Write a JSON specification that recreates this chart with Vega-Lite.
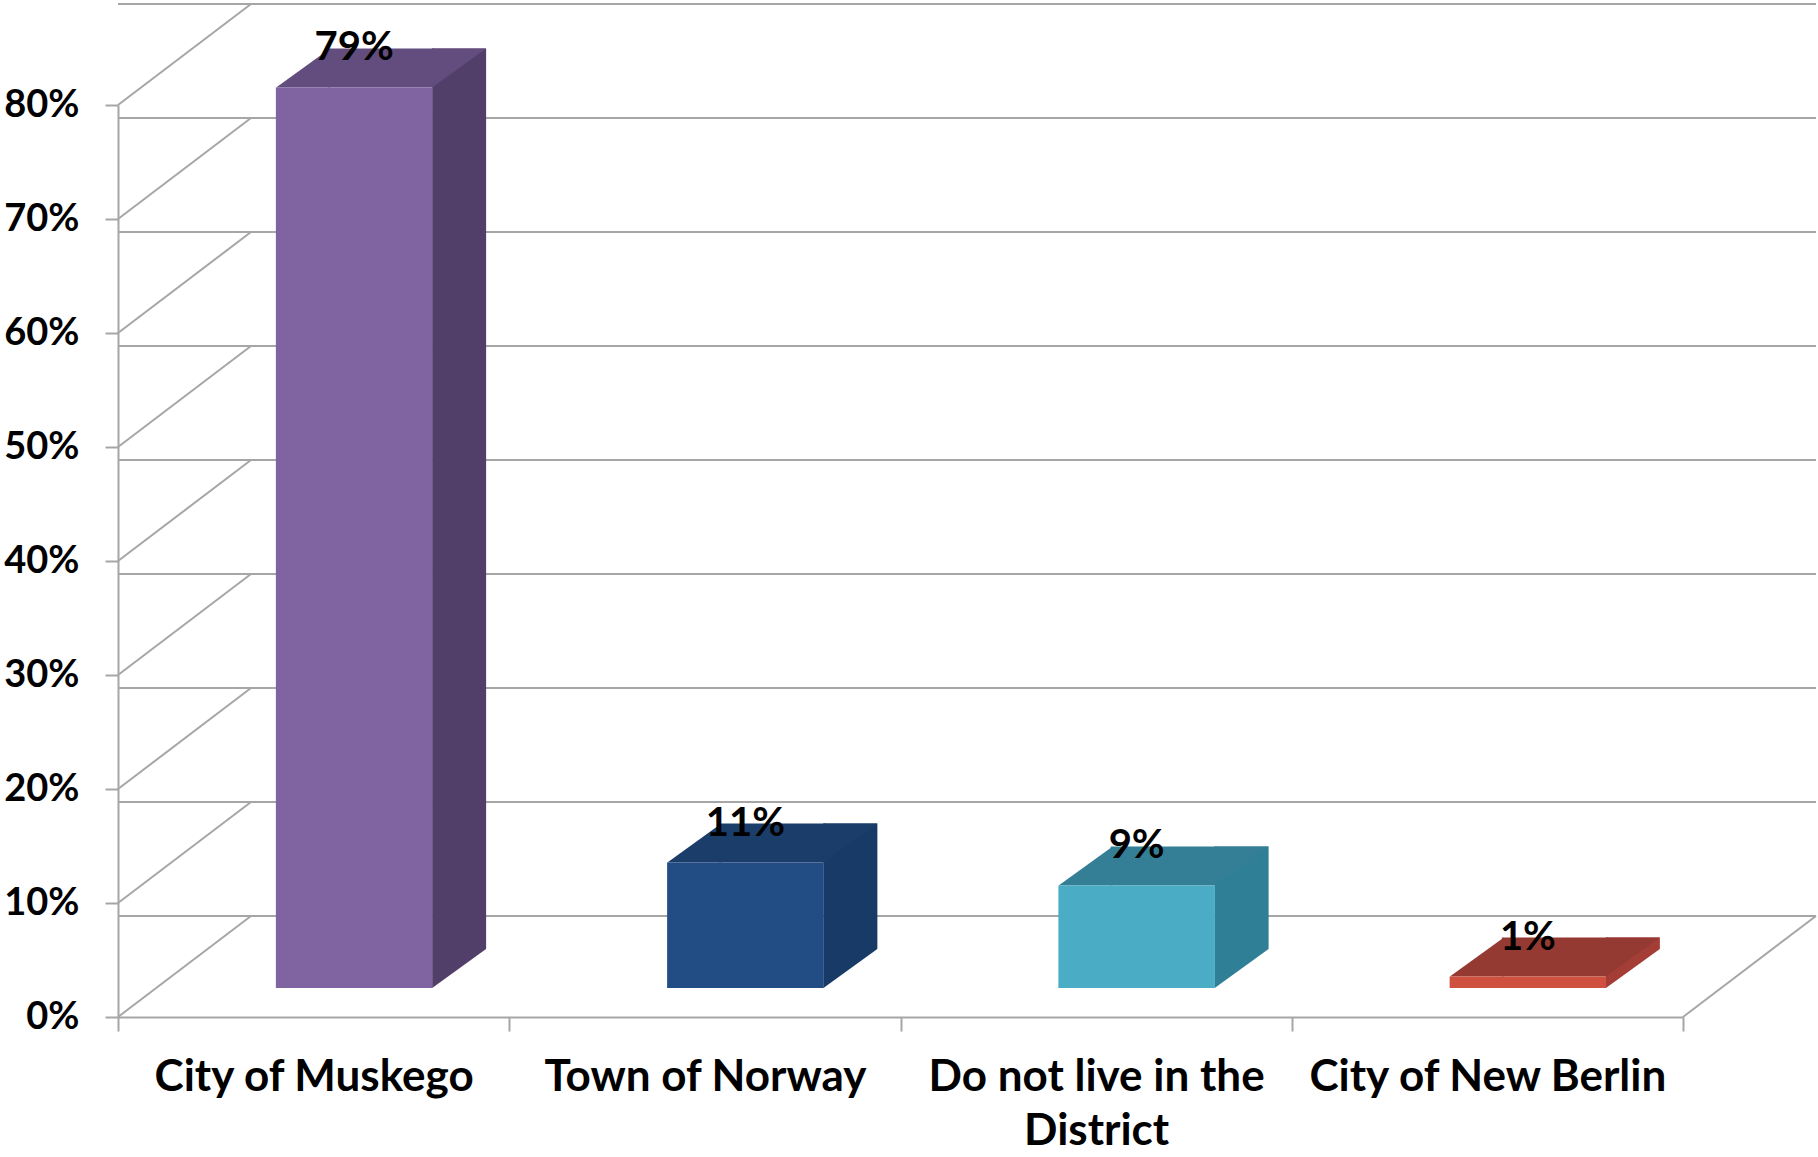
{
  "$schema": "https://vega.github.io/schema/vega-lite/v6.json",
  "width": 1565,
  "height": 912,
  "autosize": {"type": "none"},
  "padding": {"left": 118, "top": 105, "right": 135, "bottom": 140},
  "background": "white",
  "config": {"view": {"stroke": null}, "font": "Lato"},
  "datasets": {
    "bars": [
      {"place": "City of Muskego", "share": 0.79},
      {"place": "Town of Norway", "share": 0.11},
      {"place": "Do not live in the District", "share": 0.09},
      {"place": "City of New Berlin", "share": 0.01}
    ],
    "grid": [
      {"v": 0}, {"v": 0.1}, {"v": 0.2}, {"v": 0.3}, {"v": 0.4},
      {"v": 0.5}, {"v": 0.6}, {"v": 0.7}, {"v": 0.8}
    ]
  },
  "layer": [
    {
      "data": {"name": "grid"},
      "mark": {"type": "rule", "color": "#A6A6A6", "strokeWidth": 2, "xOffset": 133, "x2Offset": 133, "yOffset": -101, "y2Offset": -101},
      "encoding": {
        "y": {
          "field": "v", "type": "quantitative", "scale": {"domain": [0, 0.8], "nice": false},
          "axis": {
            "title": null, "values": [0, 0.1, 0.2, 0.3, 0.4, 0.5, 0.6, 0.7, 0.8], "format": ".0%",
            "grid": false, "tickSize": 13, "tickWidth": 2, "tickColor": "#A6A6A6",
            "domainColor": "#A6A6A6", "domainWidth": 2,
            "labelFont": "Lato", "labelFontWeight": "bold", "labelFontSize": 38, "labelColor": "black",
            "labelPadding": 26
          }
        }
      }
    },
    {
      "data": {"name": "grid"},
      "mark": {"type": "rule", "color": "#A6A6A6", "strokeWidth": 2, "x2Offset": 133, "y2Offset": -101},
      "encoding": {
        "x": {"value": 0},
        "x2": {"value": 0},
        "y": {"field": "v", "type": "quantitative", "title": null},
        "y2": {"field": "v"}
      }
    },
    {
      "data": {"name": "grid"},
      "transform": [{"filter": "datum.v == 0"}],
      "mark": {"type": "rule", "color": "#A6A6A6", "strokeWidth": 2, "x2Offset": 133, "y2Offset": -101},
      "encoding": {
        "x": {"value": "width"},
        "x2": {"value": "width"},
        "y": {"field": "v", "type": "quantitative", "title": null},
        "y2": {"field": "v"}
      }
    },
    {
      "data": {"name": "bars"},
      "mark": {"type": "bar", "width": 54, "xOffset": 145.5, "yOffset": -68, "y2Offset": -29},
      "encoding": {
        "x": {
          "field": "place", "type": "nominal", "sort": null,
          "scale": {"paddingInner": 0, "paddingOuter": 0},
          "axis": {
            "title": null, "tickBand": "extent", "tickSize": 14, "tickWidth": 2, "tickColor": "#A6A6A6",
            "domainColor": "#A6A6A6", "domainWidth": 2, "labelAngle": 0,
            "labelFont": "Lato", "labelFontWeight": "bold", "labelFontSize": 44, "labelColor": "black",
            "labelPadding": 24, "labelLimit": 600, "labelOverlap": false, "labelLineHeight": 54,
            "labelExpr": "datum.label == 'Do not live in the District' ? ['Do not live in the', 'District'] : datum.label"
          }
        },
        "y": {"field": "share", "type": "quantitative", "title": null},
        "y2": {"datum": 0},
        "color": {
          "field": "place", "type": "nominal", "legend": null,
          "scale": {"domain": ["City of Muskego", "Town of Norway", "Do not live in the District", "City of New Berlin"],
                    "range": ["#523F69", "#183A66", "#2F7F96", "#A33D35"]}
        }
      }
    },
    {
      "data": {"name": "bars"},
      "mark": {"type": "point", "filled": true, "opacity": 1, "size": 2916, "shape": "M1.1,-0.794L1.1,0.794L-1.1,0.794Z", "color": "white", "xOffset": 145.5, "yOffset": -48.5},
      "encoding": {
        "x": {"field": "place", "type": "nominal", "sort": null},
        "y": {"datum": 0}
      }
    },
    {
      "data": {"name": "bars"},
      "mark": {"type": "bar", "width": 106, "xOffset": 67.5, "yOffset": -68, "y2Offset": -29},
      "encoding": {
        "x": {"field": "place", "type": "nominal", "sort": null},
        "y": {"field": "share", "type": "quantitative", "title": null},
        "y2": {"field": "share"},
        "color": {
          "field": "place", "type": "nominal", "legend": null,
          "scale": {"domain": ["City of Muskego", "Town of Norway", "Do not live in the District", "City of New Berlin"],
                    "range": ["#624D7E", "#1B3D6A", "#357F96", "#953A33"]}
        }
      }
    },
    {
      "data": {"name": "bars"},
      "mark": {"type": "point", "filled": true, "opacity": 1, "size": 2916, "shape": "M-1,0.722L1,-0.722L1,0.722Z", "xOffset": -10.5, "yOffset": -48.5},
      "encoding": {
        "x": {"field": "place", "type": "nominal", "sort": null},
        "y": {"field": "share", "type": "quantitative", "title": null},
        "color": {
          "field": "place", "type": "nominal", "legend": null,
          "scale": {"domain": ["City of Muskego", "Town of Norway", "Do not live in the District", "City of New Berlin"],
                    "range": ["#624D7E", "#1B3D6A", "#357F96", "#953A33"]}
        }
      }
    },
    {
      "data": {"name": "bars"},
      "mark": {"type": "point", "filled": true, "opacity": 1, "size": 2916, "shape": "M-1,0.722L1,-0.722L-1,-0.722Z", "xOffset": 145.5, "yOffset": -48.5},
      "encoding": {
        "x": {"field": "place", "type": "nominal", "sort": null},
        "y": {"field": "share", "type": "quantitative", "title": null},
        "color": {
          "field": "place", "type": "nominal", "legend": null,
          "scale": {"domain": ["City of Muskego", "Town of Norway", "Do not live in the District", "City of New Berlin"],
                    "range": ["#624D7E", "#1B3D6A", "#357F96", "#953A33"]}
        }
      }
    },
    {
      "data": {"name": "bars"},
      "mark": {"type": "bar", "width": {"band": 0.4}, "xOffset": 40.5, "yOffset": -29, "y2Offset": -29},
      "encoding": {
        "x": {"field": "place", "type": "nominal", "sort": null},
        "y": {"field": "share", "type": "quantitative", "title": null},
        "y2": {"datum": 0},
        "color": {
          "field": "place", "type": "nominal", "legend": null,
          "scale": {"domain": ["City of Muskego", "Town of Norway", "Do not live in the District", "City of New Berlin"],
                    "range": ["#8064A2", "#214C84", "#4BACC6", "#D0503F"]}
        }
      }
    },
    {
      "data": {"name": "bars"},
      "mark": {"type": "text", "font": "Lato", "fontWeight": "bold", "fontSize": 40, "color": "black", "baseline": "alphabetic", "align": "center", "xOffset": 40.5, "yOffset": -56},
      "encoding": {
        "x": {"field": "place", "type": "nominal", "sort": null},
        "y": {"field": "share", "type": "quantitative", "title": null},
        "text": {"field": "share", "type": "quantitative", "format": ".0%"}
      }
    }
  ],
  "resolve": {"scale": {"color": "independent"}}
}
